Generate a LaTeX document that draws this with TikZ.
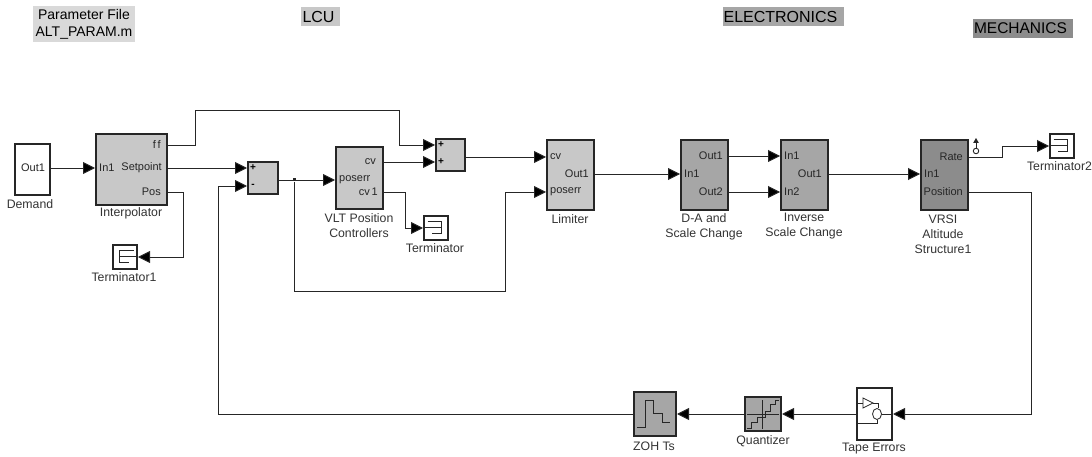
\documentclass[tikz,border=0pt]{standalone}
\usepackage{fontspec}
\setmainfont{Liberation Sans}
\usepackage{tikz}
\usetikzlibrary{arrows.meta}

\definecolor{wirecol}{HTML}{262626}
\definecolor{lcugray}{HTML}{C8C8C8}
\definecolor{elecgray}{HTML}{A6A6A6}
\definecolor{mechgray}{HTML}{8C8C8C}

\tikzset{
    block/.style={draw=wirecol, line width=1.1pt, inner sep=0pt, outer sep=0pt},
    wire/.style={draw=wirecol, line width=0.95pt, -{Triangle[length=12pt,width=12pt,fill=black]}, shorten >=1pt},
    caption/.style={inner sep=0pt, align=center, text=black!80, font=\fontsize{12.3}{15}\selectfont},
    portl/.style={anchor=west, inner sep=0pt, text=black!85, font=\fontsize{11}{13}\selectfont},
    portr/.style={anchor=east, inner sep=0pt, text=black!85, font=\fontsize{11}{13}\selectfont},
    sign/.style={inner sep=0pt, font=\fontsize{10}{12}\selectfont\bfseries},
    header/.style={inner sep=0pt},
    termicon/.pic={
        \draw[line width=0.8pt, wirecol] (-8.5,-7) -- (5.5,-7) -- (5.5,5) -- (-4,5);
        \draw[line width=0.8pt, wirecol] (-12,-1) -- (5.5,-1);
    }
}

\begin{document}
\begin{tikzpicture}[x=1pt, y=-1pt]
        \useasboundingbox (0,0) rectangle (1092,457);

        % Headers
        \node[header, align=center, fill=black!15, minimum width=102pt, minimum height=36pt, font=\fontsize{14}{17}\selectfont] (HeadParam) at (84,24) {Parameter File\\ALT\_PARAM.m};
        \node[header, fill=lcugray, minimum width=39pt, minimum height=19pt, font=\fontsize{16}{18}\selectfont] (HeadLCU) at (320.5,16.5) {LCU\kern4pt};
        \node[header, fill=elecgray, minimum width=121pt, minimum height=19pt, font=\fontsize{16}{18}\selectfont] (HeadElec) at (783.5,16.5) {ELECTRONICS\kern6pt};
        \node[header, fill=mechgray, minimum width=100pt, minimum height=19pt, font=\fontsize{15.5}{18}\selectfont] (HeadMech) at (1023,28.5) {MECHANICS\kern5pt};

        % Blocks
        \node[block, fill=white, minimum width=35pt, minimum height=51pt] (Demand) at (32.5,169.5) {};
        \node[block, fill=lcugray, minimum width=71pt, minimum height=71pt] (Interp) at (131.5,169.5) {};
        \node[block, fill=lcugray, minimum width=30pt, minimum height=32pt] (SumA) at (263,178) {};
        \node[block, fill=lcugray, minimum width=47pt, minimum height=62pt] (VLT) at (359.5,178) {};
        \node[block, fill=lcugray, minimum width=29pt, minimum height=32pt] (SumB) at (450.5,155) {};
        \node[block, fill=lcugray, minimum width=47pt, minimum height=70pt] (Limiter) at (570.5,175) {};
        \node[block, fill=elecgray, minimum width=47pt, minimum height=70pt] (DA) at (704.5,175) {};
        \node[block, fill=elecgray, minimum width=47pt, minimum height=70pt] (Inverse) at (804.5,175) {};
        \node[block, fill=mechgray, minimum width=47pt, minimum height=70pt] (VRSI) at (944.5,175) {};
        \node[block, fill=white, minimum width=24pt, minimum height=24pt] (TermA) at (125,257) {};
        \node[block, fill=white, minimum width=24pt, minimum height=24pt] (TermB) at (436,228) {};
        \node[block, fill=white, minimum width=24pt, minimum height=24pt] (TermC) at (1062,146) {};
        \node[block, fill=elecgray, minimum width=42pt, minimum height=44pt] (ZOH) at (655,414) {};
        \node[block, fill=elecgray, minimum width=36pt, minimum height=34pt] (Quant) at (763,414) {};
        \node[block, fill=white, minimum width=35pt, minimum height=52pt] (Tape) at (874.5,414) {};

        % Port labels
        \node[inner sep=0pt, text=black!85, font=\fontsize{11}{13}\selectfont] (DemandOut) at (33,168) {Out1};
        \node[portl] (InterpIn) at (99,168) {In1};
        \node[portr] (InterpFf) at (161,145) {f\,f};
        \node[portr] (InterpSet) at (162,168) {Setpoint};
        \node[portr] (InterpPos) at (161,192) {Pos};
        \node[sign] (SumAp) at (253,168) {+};
        \node[sign] (SumAm) at (253,186) {-};
        \node[sign] (SumBa) at (441,145) {+};
        \node[sign] (SumBb) at (441,162) {+};
        \node[portr] (VLTcv) at (376,162) {cv};
        \node[portl] (VLTerr) at (339,180) {poserr};
        \node[portr] (VLTcvb) at (378,192) {cv\,1};
        \node[portl] (LimCv) at (550,157) {cv};
        \node[portr] (LimOut) at (589,174) {Out1};
        \node[portl] (LimErr) at (550,192) {poserr};
        \node[portl] (DAin) at (684,174) {In1};
        \node[portr] (DAouta) at (723,156) {Out1};
        \node[portr] (DAoutb) at (723,192) {Out2};
        \node[portl] (InvIna) at (784,156) {In1};
        \node[portl] (InvInb) at (784,192) {In2};
        \node[portr] (InvOut) at (822,174) {Out1};
        \node[portr] (VRSIrate) at (963,157) {Rate};
        \node[portl] (VRSIin) at (924,174) {In1};
        \node[portr] (VRSIpos) at (963,192) {Position};

        % Captions
        \node[caption] (CapDemand) at (30,204) {Demand};
        \node[caption] (CapInterp) at (131,213) {Interpolator};
        \node[caption] (CapTermA) at (124,277) {Terminator1};
        \node[caption] (CapVLT) at (359,225.5) {VLT Position\\Controllers};
        \node[caption] (CapTermB) at (435,248) {Terminator};
        \node[caption] (CapLimiter) at (570,219) {Limiter};
        \node[caption] (CapDA) at (704,226.5) {D-A and\\Scale Change};
        \node[caption] (CapInverse) at (804,226.5) {Inverse\\Scale Change};
        \node[caption] (CapVRSI) at (943,234) {VRSI\\Altitude\\Structure1};
        \node[caption] (CapTermC) at (1059.5,166) {Terminator2};
        \node[caption] (CapZOH) at (654,446) {ZOH Ts};
        \node[caption] (CapQuant) at (763,441) {Quantizer};
        \node[caption] (CapTape) at (874,449) {Tape Errors};

        % Icons
        \pic[xscale=-1] at (TermA.center) {termicon};
        \pic at (TermB.center) {termicon};
        \pic at (TermC.center) {termicon};
        \draw[line width=1pt, wirecol] (637,427) -- (645,427) -- (645,400) -- (653,400) -- (653,413) -- (662,413) -- (662,422) -- (670,422);
        \draw[line width=0.8pt, wirecol] (762,400) -- (762,429);
        \draw[line width=0.8pt, wirecol] (747,414) -- (779,414);
        \draw[line width=1pt, wirecol] (747,428) -- (751,428) -- (751,422) -- (757,422) -- (757,417) -- (765,417) -- (765,411) -- (770,411) -- (770,404) -- (775,404) -- (775,400) -- (779,400);
        \draw[line width=0.8pt, wirecol] (863,398) -- (863,408) -- (873,403) -- cycle;
        \draw[line width=0.8pt, wirecol] (857,403) -- (863,403);
        \draw[line width=0.8pt, wirecol] (873,403) -- (878,403) -- (878,408);
        \draw[line width=0.8pt, wirecol] (877,414) ellipse (4.5 and 5.5);
        \draw[line width=0.8pt, wirecol] (857,423) -- (877,423) -- (877,419.5);
        \draw[line width=0.8pt, wirecol] (881.5,414) -- (892,414);

        % Routing points
        \coordinate (FfBend) at (195,110);
        \coordinate (FfDrop) at (399,145);
        \coordinate (PosCorner) at (183,257);
        \coordinate (CvCorner) at (405,228);
        \coordinate (BranchCorner) at (505,291);
        \coordinate (RateCorner) at (1002,146);
        \coordinate (FbCorner) at (218,186);
        \coordinate (VRSICorner) at (1031,414);
        \coordinate (ProbeTop) at (976,138);
        \node[fill=wirecol, inner sep=0pt, minimum size=3pt] (Branch) at (294,180) {};
        \node[draw=wirecol, fill=white, circle, line width=0.9pt, inner sep=0pt, minimum size=5.5pt] (Probe) at (976,151) {};

        % Edges
        \draw[wire] (Demand.east |- InterpIn) -- (Interp.west |- InterpIn);
        \draw[wire] (Interp.east |- InterpSet) -- (SumA.west |- SumAp);
        \draw[wire] (Interp.east |- InterpFf) -| (FfBend) -| (FfDrop) -- (SumB.west |- SumBa);
        \draw[wire] (Interp.east |- InterpPos) -| (PosCorner) -- (TermA.east);
        \draw[wire] (SumA.east |- VLTerr) -- (VLT.west |- VLTerr);
        \draw[wire] (Branch) |- (BranchCorner) |- (Limiter.west |- LimErr);
        \draw[wire] (VLT.east |- VLTcv) -- (SumB.west |- SumBb);
        \draw[wire] (VLT.east |- VLTcvb) -| (CvCorner) -- (TermB.west);
        \draw[wire] (SumB.east |- LimCv) -- (Limiter.west |- LimCv);
        \draw[wire] (Limiter.east |- LimOut) -- (DA.west |- DAin);
        \draw[wire] (DA.east |- DAouta) -- (Inverse.west |- InvIna);
        \draw[wire] (DA.east |- DAoutb) -- (Inverse.west |- InvInb);
        \draw[wire] (Inverse.east |- InvOut) -- (VRSI.west |- VRSIin);
        \draw[wire] (VRSI.east |- VRSIrate) -| (RateCorner) -- (TermC.west);
        \draw[wire] (VRSI.east |- VRSIpos) -| (VRSICorner) -- (Tape.east);
        \draw[wire] (Tape.west) -- (Quant.east);
        \draw[wire] (Quant.west) -- (ZOH.east);
        \draw[wire] (ZOH.west) -| (FbCorner) -- (SumA.west |- SumAm);
        \draw[draw=wirecol, line width=0.9pt, -{Triangle[length=5pt,width=5.5pt]}] (Probe) -- (ProbeTop);
    \end{tikzpicture}
\end{document}
